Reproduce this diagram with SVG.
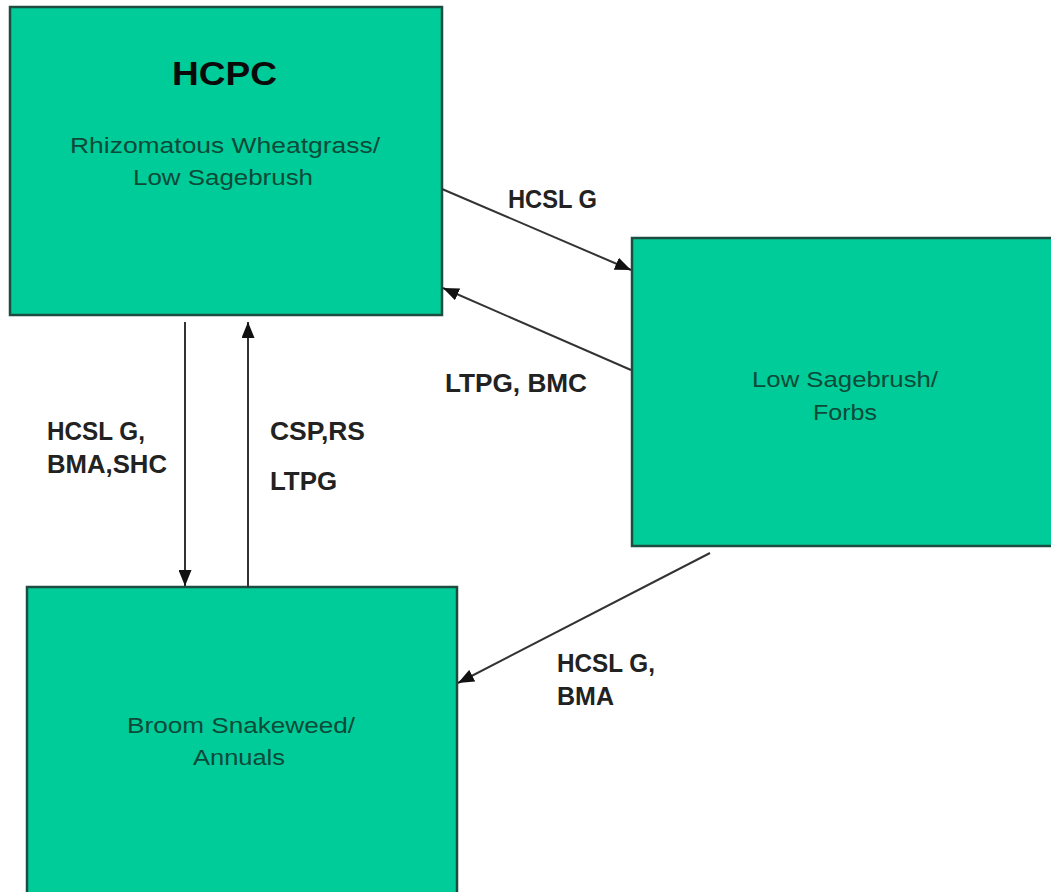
<svg xmlns="http://www.w3.org/2000/svg" width="1051" height="892" viewBox="0 0 1051 892">
<style>
.box{fill:#00CC99;stroke:#1d4d40;stroke-width:2.5}
.nt{font-family:"Liberation Sans",Arial,sans-serif;font-size:22px;fill:#0c4a38}
.title{font-family:"Liberation Sans",Arial,sans-serif;font-size:33px;font-weight:bold;fill:#0a0a0a}
.lbl{font-family:"Liberation Sans",Arial,sans-serif;font-size:25px;font-weight:bold;fill:#222}
.conn{stroke:#333;stroke-width:2;fill:none;marker-end:url(#arr)}
</style>
<defs>
<marker id="arr" viewBox="0 0 16 13" refX="16" refY="6.5" markerWidth="16" markerHeight="13" markerUnits="userSpaceOnUse" orient="auto">
<path d="M0,0 L16,6.5 L0,13 z" fill="#111"/>
</marker>
</defs>
<rect width="1051" height="892" fill="#fff"/>
<g id="hcpc">
<rect class="box" x="10" y="7" width="432" height="308"/>
<text class="title" x="172" y="85" textLength="105" lengthAdjust="spacingAndGlyphs">HCPC</text>
<text class="nt" x="70" y="153" textLength="310" lengthAdjust="spacingAndGlyphs">Rhizomatous Wheatgrass/</text>
<text class="nt" x="133" y="185" textLength="180" lengthAdjust="spacingAndGlyphs">Low Sagebrush</text>
</g>
<g id="lowsage">
<rect class="box" x="632" y="238" width="430" height="308"/>
<text class="nt" x="752" y="387" textLength="186" lengthAdjust="spacingAndGlyphs">Low Sagebrush/</text>
<text class="nt" x="813" y="420" textLength="64" lengthAdjust="spacingAndGlyphs">Forbs</text>
</g>
<g id="broom">
<rect class="box" x="27" y="587" width="430" height="320"/>
<text class="nt" x="127" y="733" textLength="228" lengthAdjust="spacingAndGlyphs">Broom Snakeweed/</text>
<text class="nt" x="193" y="765" textLength="92" lengthAdjust="spacingAndGlyphs">Annuals</text>
</g>
<g id="connectors">
<line class="conn" x1="442" y1="189" x2="631" y2="270"/>
<line class="conn" x1="631" y1="370" x2="443" y2="288"/>
<line class="conn" x1="185" y1="322" x2="185" y2="586"/>
<line class="conn" x1="248" y1="587" x2="248" y2="322"/>
<line class="conn" x1="710" y1="553" x2="458" y2="683"/>
</g>
<g id="labels">
<text class="lbl" x="508" y="208" textLength="89" lengthAdjust="spacingAndGlyphs">HCSL G</text>
<text class="lbl" x="445" y="392" textLength="142" lengthAdjust="spacingAndGlyphs">LTPG, BMC</text>
<text class="lbl" x="47" y="440" textLength="98" lengthAdjust="spacingAndGlyphs">HCSL G,</text>
<text class="lbl" x="47" y="473" textLength="120" lengthAdjust="spacingAndGlyphs">BMA,SHC</text>
<text class="lbl" x="270" y="440" textLength="95" lengthAdjust="spacingAndGlyphs">CSP,RS</text>
<text class="lbl" x="270" y="490" textLength="67" lengthAdjust="spacingAndGlyphs">LTPG</text>
<text class="lbl" x="557" y="672" textLength="98" lengthAdjust="spacingAndGlyphs">HCSL G,</text>
<text class="lbl" x="557" y="705" textLength="57" lengthAdjust="spacingAndGlyphs">BMA</text>
</g>
</svg>
